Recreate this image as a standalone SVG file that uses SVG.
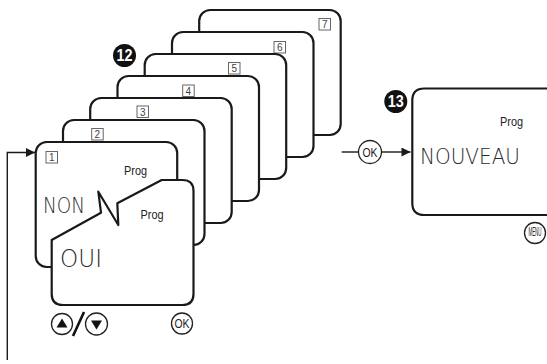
<svg xmlns="http://www.w3.org/2000/svg" width="547" height="364" viewBox="0 0 547 364">
<style>
.scr{fill:#fff;stroke:#1a1a1a;stroke-width:2.2;stroke-linejoin:round}
.num rect{fill:#fff;stroke:#666;stroke-width:1}
.num text{font-family:"Liberation Sans",Arial,sans-serif;font-size:10px;fill:#444;text-anchor:middle}
.prog{font-family:"Liberation Sans",Arial,sans-serif;font-size:12.5px;fill:#222}
.lcd{font-family:"DejaVu Sans","Liberation Sans",sans-serif;font-weight:200;fill:#2a2a2a}
.badge circle{fill:#111}
.badge text{font-family:"Liberation Sans",Arial,sans-serif;font-weight:bold;font-size:16px;fill:#fff;text-anchor:middle}
.btn{fill:#fff;stroke:#222;stroke-width:1.3}
.btntxt{font-family:"Liberation Sans",Arial,sans-serif;font-size:12px;fill:#222;text-anchor:middle}
.conn{fill:none;stroke:#1a1a1a;stroke-width:1.4}
</style>
<defs>
<marker id="ah" viewBox="0 0 10 10" refX="10" refY="5" markerWidth="10" markerHeight="9" markerUnits="userSpaceOnUse" orient="auto">
<path d="M0,0 L10,5 L0,10 Z" fill="#1a1a1a"/>
</marker>
</defs>

<g id="screen7"><rect class="scr" x="199.2" y="10" width="141.5" height="125" rx="11"/>
<g class="num"><rect x="319" y="18.5" width="11.5" height="11.5"/><text x="324.7" y="28">7</text></g></g>
<g id="screen6"><rect class="scr" x="172" y="32" width="141.5" height="125" rx="11"/>
<g class="num"><rect x="274" y="41.5" width="11.5" height="11.5"/><text x="279.7" y="51">6</text></g></g>
<g id="screen5"><rect class="scr" x="144.7" y="54" width="141.5" height="125" rx="11"/>
<g class="num"><rect x="228.5" y="62.5" width="11.5" height="11.5"/><text x="234.2" y="72">5</text></g></g>
<g id="screen4"><rect class="scr" x="117.5" y="76" width="141.5" height="125" rx="11"/>
<g class="num"><rect x="182.7" y="85" width="11.5" height="11.5"/><text x="188.4" y="94.5">4</text></g></g>
<g id="screen3"><rect class="scr" x="90.2" y="98" width="141.5" height="125" rx="11"/>
<g class="num"><rect x="137" y="106" width="11.5" height="11.5"/><text x="142.7" y="115.5">3</text></g></g>
<g id="screen2"><rect class="scr" x="63" y="120" width="141.5" height="125" rx="11"/>
<g class="num"><rect x="91.7" y="128.5" width="11.5" height="11.5"/><text x="97.4" y="138">2</text></g></g>

<g id="screen1">
<rect class="scr" x="35.7" y="142" width="141.5" height="125" rx="11"/>
<g class="num"><rect x="46" y="151.5" width="11.5" height="11.5"/><text x="51.7" y="161">1</text></g>
<text class="prog" x="124" y="175" textLength="23" lengthAdjust="spacingAndGlyphs">Prog</text>
<text class="lcd" x="43" y="213" font-size="21" textLength="42" lengthAdjust="spacingAndGlyphs">NON</text>
</g>

<g id="screen1-oui">
<path class="scr" d="M51.7,240 L101,212.7 L98.3,191.7 L118.3,225 L117.3,203.3 L161.7,180 L182.5,180 Q193.5,180 193.5,191 L193.5,294 Q193.5,305 182.5,305 L62.7,305 Q51.7,305 51.7,294 Z"/>
<text class="prog" x="140.5" y="219" textLength="23" lengthAdjust="spacingAndGlyphs">Prog</text>
<text class="lcd" x="60" y="267" font-size="25" textLength="42" lengthAdjust="spacingAndGlyphs">OUI</text>
</g>

<g id="btn-updown">
<circle class="btn" cx="62" cy="324" r="10.5"/>
<path d="M62,318.5 L67.5,327.5 L56.5,327.5 Z" fill="#111"/>
<line x1="73" y1="336" x2="84" y2="312" stroke="#111" stroke-width="2.6"/>
<circle class="btn" cx="96.5" cy="324" r="11"/>
<path d="M96.5,329.5 L91,320.5 L102,320.5 Z" fill="#111"/>
</g>
<g id="btn-ok1">
<circle class="btn" cx="182" cy="323.5" r="10.5"/>
<text class="btntxt" x="182" y="328" textLength="15" lengthAdjust="spacingAndGlyphs">OK</text>
</g>

<g id="badge12" class="badge"><circle cx="124.5" cy="55.5" r="11.5"/><text x="124.5" y="61.2" textLength="16" lengthAdjust="spacingAndGlyphs">12</text></g>

<g id="screen13">
<path class="scr" d="M560,88.5 L424.3,88.5 Q412.3,88.5 412.3,100.5 L412.3,203 Q412.3,215 424.3,215 L560,215"/>
<text class="prog" x="500" y="126" textLength="23" lengthAdjust="spacingAndGlyphs">Prog</text>
<text class="lcd" x="420" y="163.5" font-size="22" textLength="100" lengthAdjust="spacingAndGlyphs">NOUVEAU</text>
</g>
<g id="badge13" class="badge"><circle cx="395.8" cy="101.5" r="11.5"/><text x="395.8" y="107.2" textLength="16" lengthAdjust="spacingAndGlyphs">13</text></g>

<g id="btn-menu">
<circle class="btn" cx="535" cy="233" r="10.5"/>
<text class="btntxt" x="535" y="236" font-size="8" textLength="13" lengthAdjust="spacingAndGlyphs">MENU</text>
</g>

<g id="connectors">
<path class="conn" d="M7.3,360 L7.3,152.5 L35,152.5" marker-end="url(#ah)"/>
<line class="conn" x1="341.7" y1="152" x2="358.5" y2="152"/>
<line class="conn" x1="381.5" y1="152" x2="410.5" y2="152" marker-end="url(#ah)"/>
<g id="btn-ok2">
<circle class="btn" cx="370" cy="152" r="11.5"/>
<text class="btntxt" x="370" y="156.5" textLength="15" lengthAdjust="spacingAndGlyphs">OK</text>
</g>
</g>
</svg>
